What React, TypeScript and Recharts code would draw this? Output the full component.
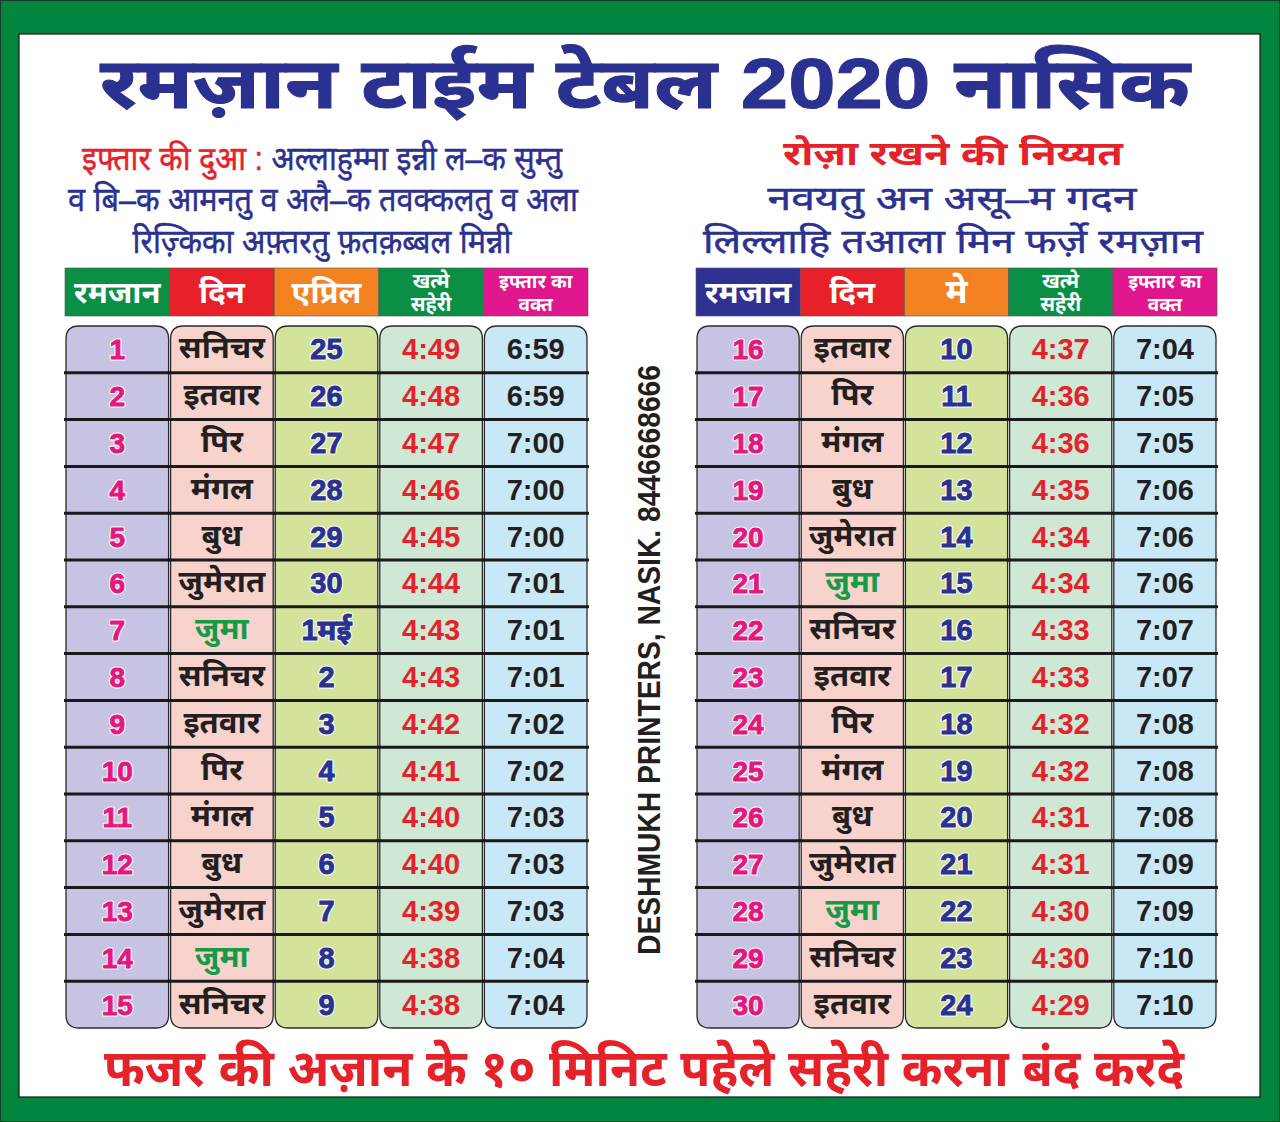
import React from 'react';
import { ScatterChart, Scatter, XAxis, YAxis } from 'recharts';

// ---------- DATA ----------
const title = 'रमज़ान टाईम टेबल 2020 नासिक';
const duaLabel = 'इफ्तार की दुआ :';
const duaLines = ['अल्लाहुम्मा इन्नी ल–क सुम्तु', 'व बि–क आमनतु व अलै–क तवक्कलतु व अला', 'रिज़्किका अफ़्तरतु फ़तक़ब्बल मिन्नी'];
const niyyatTitle = 'रोज़ा रखने की निय्यत';
const niyyatLines = ['नवयतु अन असू–म गदन', 'लिल्लाहि तआला मिन फर्ज़े रमज़ान'];
const printerText = 'DESHMUKH PRINTERS, NASIK. 8446668666';
const footer = 'फजर की अज़ान के १० मिनिट पहेले सहेरी करना बंद करदे';

const headersLeft = [['रमजान'], ['दिन'], ['एप्रिल'], ['खत्मे', 'सहेरी'], ['इफ्तार का', 'वक्त']];
const headersRight = [['रमजान'], ['दिन'], ['मे'], ['खत्मे', 'सहेरी'], ['इफ्तार का', 'वक्त']];

const ramzanLeft = [1, 2, 3, 4, 5, 6, 7, 8, 9, 10, 11, 12, 13, 14, 15];
const daysLeft = ['सनिचर', 'इतवार', 'पिर', 'मंगल', 'बुध', 'जुमेरात', 'जुमा', 'सनिचर', 'इतवार', 'पिर', 'मंगल', 'बुध', 'जुमेरात', 'जुमा', 'सनिचर'];
const datesLeft = ['25', '26', '27', '28', '29', '30', '1मई', '2', '3', '4', '5', '6', '7', '8', '9'];
const sehriLeft = ['4:49', '4:48', '4:47', '4:46', '4:45', '4:44', '4:43', '4:43', '4:42', '4:41', '4:40', '4:40', '4:39', '4:38', '4:38'];
const iftarLeft = ['6:59', '6:59', '7:00', '7:00', '7:00', '7:01', '7:01', '7:01', '7:02', '7:02', '7:03', '7:03', '7:03', '7:04', '7:04'];

const ramzanRight = [16, 17, 18, 19, 20, 21, 22, 23, 24, 25, 26, 27, 28, 29, 30];
const daysRight = ['इतवार', 'पिर', 'मंगल', 'बुध', 'जुमेरात', 'जुमा', 'सनिचर', 'इतवार', 'पिर', 'मंगल', 'बुध', 'जुमेरात', 'जुमा', 'सनिचर', 'इतवार'];
const datesRight = ['10', '11', '12', '13', '14', '15', '16', '17', '18', '19', '20', '21', '22', '23', '24'];
const sehriRight = ['4:37', '4:36', '4:36', '4:35', '4:34', '4:34', '4:33', '4:33', '4:32', '4:32', '4:31', '4:31', '4:30', '4:30', '4:29'];
const iftarRight = ['7:04', '7:05', '7:05', '7:06', '7:06', '7:06', '7:07', '7:07', '7:08', '7:08', '7:08', '7:09', '7:09', '7:10', '7:10'];

// ---------- STYLE ----------
const W = 1280;
const H = 1122;
const FONT = "'Liberation Sans', Arial, 'Noto Sans Devanagari', 'Noto Sans', sans-serif";
const NARROW = "'Liberation Sans Narrow', 'Arial Narrow', 'Liberation Sans', sans-serif";
const BLUE = '#2b3190';
const RED = '#e5222a';
const GREEN = '#00853f';
const HEADER_TOP = 268;
const BODY_TOP = 326;
const BODY_BOTTOM = 1028;
const headerColorsLeft = ['#0a8f45', '#e8202a', '#f58220', '#0a8f45', '#e0168c'];
const headerColorsRight = ['#2e3192', '#e8202a', '#f58220', '#0a8f45', '#e0168c'];
const bodyColors = ['#c7c4e3', '#f8d3ce', '#d4e39c', '#cfe7d5', '#c9e8f7'];

function HeaderTick(props: any) {
  const { x, y, payload, cw, headers, colors } = props;
  const idx = Math.round(payload.value) - 1;
  const lines: string[] = headers[idx] || [];
  const top = y - (BODY_TOP - HEADER_TOP);
  const h = 48;
  return (
    <g>
      <rect x={x - cw / 2} y={top} width={cw} height={h} fill={colors[idx]} stroke="#555" strokeWidth={0.6} />
      {lines.length === 1 ? (
        <text x={x} y={top + 35} textAnchor="middle" fill="#fff" fontFamily={FONT} fontWeight="bold" fontSize={lines[0] === 'मे' ? 34 : 31}>
          {lines[0]}
        </text>
      ) : (
        <g>
          <text x={x} y={top + 20} textAnchor="middle" fill="#fff" fontFamily={FONT} fontWeight="bold" fontSize={idx === 3 ? 20 : 19}>
            {lines[0]}
          </text>
          <text x={x} y={top + 43} textAnchor="middle" fill="#fff" fontFamily={FONT} fontWeight="bold" fontSize={idx === 3 ? 20 : 19}>
            {lines[1]}
          </text>
        </g>
      )}
    </g>
  );
}

function CellShape(props: any) {
  const { cx, cy, payload, cw, rh, nRows } = props;
  if (cx == null || cy == null) return null;
  const c = payload.kind;
  const r = payload.row;
  const x0 = cx - cw / 2 + 1;
  const x1 = cx + cw / 2 - 1;
  const y0 = cy - rh / 2;
  const y1 = cy + rh / 2;
  const R = 13;
  const isTop = r === 1;
  const isBottom = r === nRows;
  let d = `M ${x0} ${isTop ? y0 + R : y0} `;
  if (isTop) d += `Q ${x0} ${y0} ${x0 + R} ${y0} L ${x1 - R} ${y0} Q ${x1} ${y0} ${x1} ${y0 + R} `;
  else d += `L ${x1} ${y0} `;
  if (isBottom) d += `L ${x1} ${y1 - R} Q ${x1} ${y1} ${x1 - R} ${y1} L ${x0 + R} ${y1} Q ${x0} ${y1} ${x0} ${y1 - R} Z`;
  else d += `L ${x1} ${y1} L ${x0} ${y1} Z`;

  let fill = '#231f20';
  let fs = 29;
  let dy = 10;
  let outline = false;
  if (c === 0) { fill = '#e3177e'; fs = 28; outline = true; }
  if (c === 1) { fill = payload.text === 'जुमा' ? '#159a48' : '#231f20'; fs = 31; dy = 9; }
  if (c === 2) { fill = BLUE; fs = 29; outline = true; }
  if (c === 3) { fill = '#e5222a'; fs = 29; }
  if (c === 4) { fill = '#231f20'; fs = 29; }

  return (
    <g>
      <path d={d} fill={bodyColors[c]} stroke="#2a2a2a" strokeWidth={1.3} />
      {!isTop && <line x1={cx - cw / 2 - 1} x2={cx + cw / 2 + 1} y1={y0} y2={y0} stroke="#1a1a1a" strokeWidth={3} />}
      {outline && (
        <text x={cx} y={cy + dy} textAnchor="middle" fill="none" stroke="#ffffff" strokeWidth={3} strokeLinejoin="round" fontFamily={FONT} fontWeight="bold" fontSize={fs}>
          {payload.text}
        </text>
      )}
      <text
        x={cx}
        y={cy + dy}
        textAnchor="middle"
        fill={fill}
        stroke={outline ? fill : 'none'}
        strokeWidth={outline ? 0.9 : 0}
        fontFamily={FONT}
        fontWeight="bold"
        fontSize={fs}
      >
        {payload.text}
      </text>
    </g>
  );
}

function TimeTable(props: any) {
  const { left, right, headers, colors, ramzan, days, dates, sehri, iftar } = props;
  const cols = [ramzan, days, dates, sehri, iftar];
  const nRows = ramzan.length;
  const cw = (right - left) / cols.length;
  const rh = (BODY_BOTTOM - BODY_TOP) / nRows;
  const data: any[] = [];
  ramzan.forEach((_: any, i: number) => {
    cols.forEach((arr: any[], c: number) => {
      data.push({ col: c + 1, row: i + 1, text: String(arr[i]), kind: c });
    });
  });
  return (
    <div style={{ position: 'absolute', left: 0, top: 0 }}>
      <ScatterChart
        width={W}
        height={H}
        margin={{ top: HEADER_TOP, left: left, right: W - right, bottom: H - BODY_BOTTOM }}
      >
        <XAxis
          type="number"
          dataKey="col"
          domain={[0.5, cols.length + 0.5]}
          ticks={[1, 2, 3, 4, 5]}
          orientation="top"
          height={BODY_TOP - HEADER_TOP}
          axisLine={false}
          tickLine={false}
          tickSize={0}
          tickMargin={0}
          interval={0}
          tick={(p: any) => <HeaderTick {...p} cw={cw} headers={headers} colors={colors} />}
        />
        <YAxis type="number" dataKey="row" domain={[0.5, nRows + 0.5]} reversed hide width={0} />
        <Scatter
          data={data}
          isAnimationActive={false}
          shape={(p: any) => <CellShape {...p} cw={cw} rh={rh} nRows={nRows} />}
        />
      </ScatterChart>
    </div>
  );
}

function Background() {
  return (
    <svg width={W} height={H} style={{ position: 'absolute', left: 0, top: 0 }}>
      <rect x={0} y={0} width={W} height={H} fill={GREEN} />
      <rect x={0.5} y={0.5} width={W - 1} height={H - 1} fill="none" stroke="#1d3b24" strokeWidth={1} />
      <rect x={19} y={34} width={1241} height={1063} fill="#ffffff" stroke="#1a1a1a" strokeWidth={1.2} />
      <text x={645} y={108} textAnchor="middle" fontFamily={FONT} fontWeight="bold" fontSize={70} fill={BLUE} stroke={BLUE} strokeWidth={1} textLength={1090} lengthAdjust="spacingAndGlyphs">
        {title}
      </text>
      <text x={322} y={170} textAnchor="middle" fontFamily={FONT} fontSize={33} fill={BLUE} stroke={BLUE} strokeWidth={0.5} textLength={480} lengthAdjust="spacingAndGlyphs">
        <tspan fill={RED} stroke={RED}>{duaLabel}</tspan>
        <tspan> {duaLines[0]}</tspan>
      </text>
      <text x={323} y={211} textAnchor="middle" fontFamily={FONT} fontSize={33} fill={BLUE} stroke={BLUE} strokeWidth={0.5} textLength={510} lengthAdjust="spacingAndGlyphs">
        {duaLines[1]}
      </text>
      <text x={322} y={253} textAnchor="middle" fontFamily={FONT} fontSize={33} fill={BLUE} stroke={BLUE} strokeWidth={0.5} textLength={379} lengthAdjust="spacingAndGlyphs">
        {duaLines[2]}
      </text>
      <text x={953} y={165} textAnchor="middle" fontFamily={FONT} fontWeight="bold" fontSize={33} fill={RED} textLength={340} lengthAdjust="spacingAndGlyphs">
        {niyyatTitle}
      </text>
      <text x={952} y={210} textAnchor="middle" fontFamily={FONT} fontSize={34} fill={BLUE} stroke={BLUE} strokeWidth={0.5} textLength={369} lengthAdjust="spacingAndGlyphs">
        {niyyatLines[0]}
      </text>
      <text x={953} y={253} textAnchor="middle" fontFamily={FONT} fontSize={34} fill={BLUE} stroke={BLUE} strokeWidth={0.5} textLength={500} lengthAdjust="spacingAndGlyphs">
        {niyyatLines[1]}
      </text>
      <text
        x={660}
        y={660}
        transform="rotate(-90 660 660)"
        textAnchor="middle"
        fontFamily={NARROW}
        fontWeight="bold"
        fontSize={31}
        fill="#231f20"
        textLength={590}
        lengthAdjust="spacingAndGlyphs"
      >
        {printerText}
      </text>
      <text x={644} y={1086} textAnchor="middle" fontFamily={FONT} fontWeight="bold" fontSize={52} fill={RED} textLength={1080} lengthAdjust="spacingAndGlyphs">
        {footer}
      </text>
    </svg>
  );
}

export default function App() {
  return (
    <div style={{ position: 'absolute', left: 0, top: 0, width: W, height: H, overflow: 'hidden' }}>
      <Background />
      <TimeTable
        left={65}
        right={588}
        headers={headersLeft}
        colors={headerColorsLeft}
        ramzan={ramzanLeft}
        days={daysLeft}
        dates={datesLeft}
        sehri={sehriLeft}
        iftar={iftarLeft}
      />
      <TimeTable
        left={696}
        right={1217}
        headers={headersRight}
        colors={headerColorsRight}
        ramzan={ramzanRight}
        days={daysRight}
        dates={datesRight}
        sehri={sehriRight}
        iftar={iftarRight}
      />
    </div>
  );
}
